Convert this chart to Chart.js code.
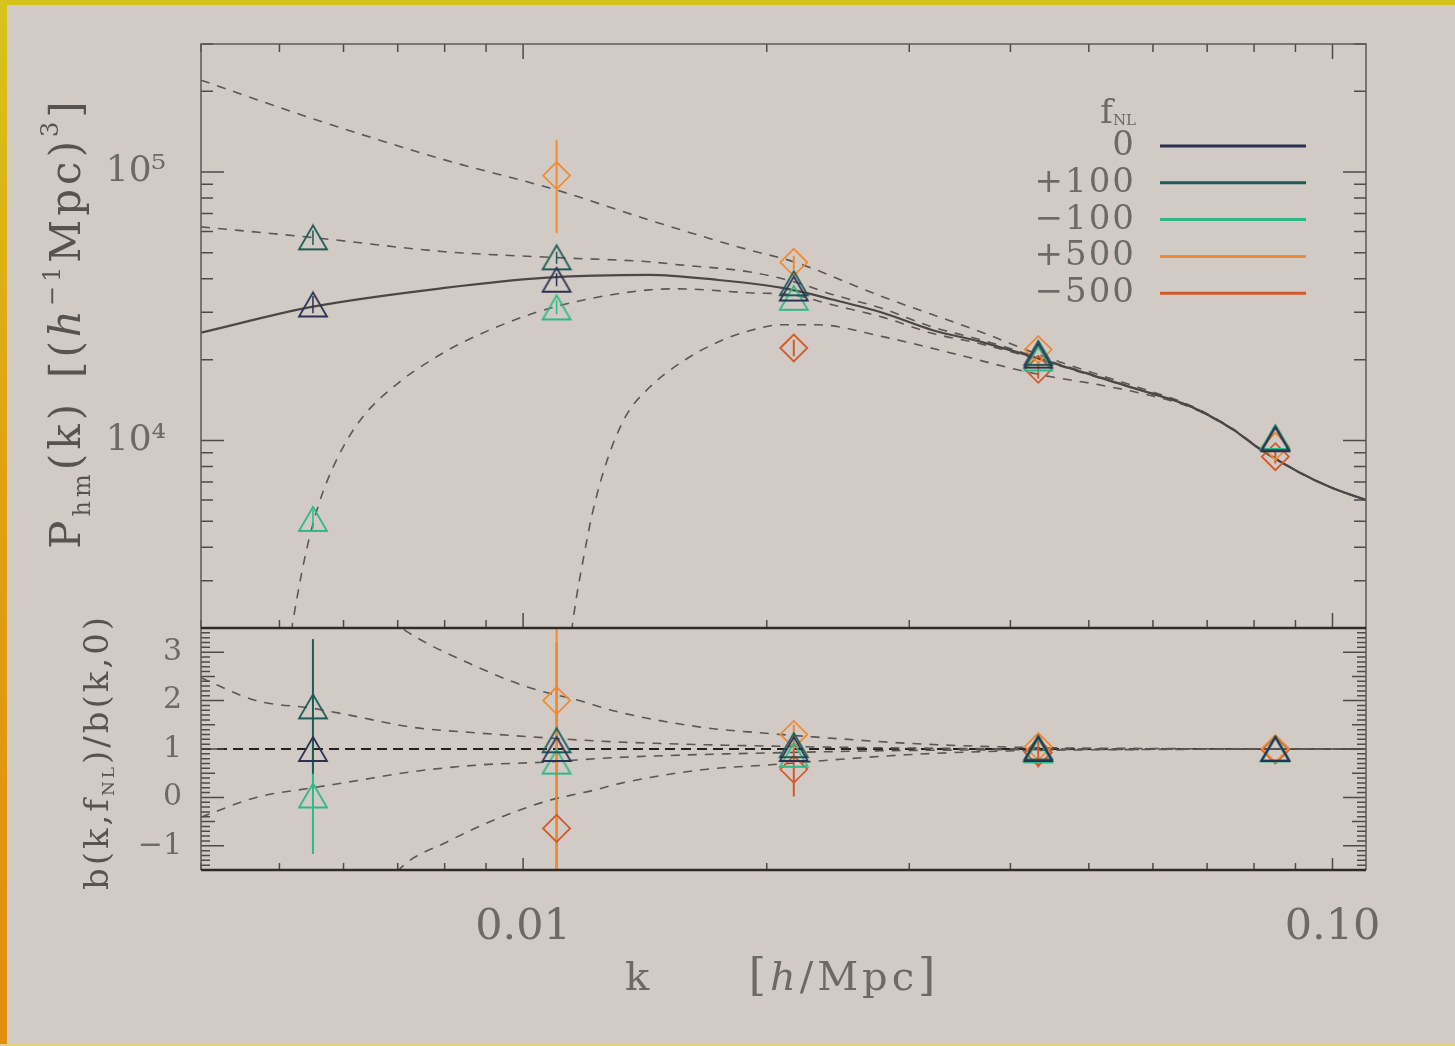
<!DOCTYPE html>
<html>
<head>
<meta charset="utf-8">
<script src="https://cdn.jsdelivr.net/npm/chart.js@4.4.1/dist/chart.umd.min.js"></script>
<style>
  html, body { margin: 0; padding: 0; background: #d2cbc5; }
  #wrap { position: relative; width: 1455px; height: 1046px; overflow: hidden; background: #d2cbc5; }
  #edgeTop { position: absolute; left: 0; top: 0; width: 1455px; height: 5px; background: #d3c21c; }
  #edgeLeft { position: absolute; left: 0; top: 0; width: 7px; height: 1046px;
              background: linear-gradient(#d6c41c, #dfa214 45%, #df8e12); }
  #edgeBottom { position: absolute; left: 0; bottom: 0; width: 1455px; height: 2px; background: #e2d27e; }
  #box { position: absolute; left: 0; top: 0; width: 1455px; height: 1046px; }
</style>
</head>
<body>
<div id="wrap">
  <div id="box"><canvas id="chart"></canvas></div>
  <div id="edgeTop"></div>
  <div id="edgeLeft"></div>
  <div id="edgeBottom"></div>
</div>
<script>
// ---- values ----
const kBins = [0.0055, 0.011, 0.0216, 0.0433, 0.085];
const fnlNames = ['0', '+100', '\u2212100', '+500', '\u2212500'];
const fnlColors = ['#2b3152', '#1f5a56', '#2fb884', '#ee8b36', '#cf5a2c'];

// measured P_hm(k), upper panel (null = off the plot)
const pk_0    = [32100, 39700, 36800, 20700, 10100];
const pk_p100 = [57100, 48100, 38500, 21200, 10200];
const pk_m100 = [5100, 31300, 34000, 20200, 10300];
const pk_p500 = [null, 97000, 46100, 21800, 9500];
const pk_m500 = [null, null, 22100, 18400, 8700];
const pkErrLo_0    = [29800, 37500, null, null, null];
const pkErrHi_0    = [34500, 42000, null, null, null];
const pkErrLo_p100 = [53500, 45500, null, null, null];
const pkErrHi_p100 = [60500, 50500, null, null, null];
const pkErrLo_m100 = [4700, 29500, null, null, null];
const pkErrHi_m100 = [5500, 33200, null, null, null];
const pkErrLo_p500 = [null, 59300, 43500, null, null];
const pkErrHi_p500 = [null, 131500, 48800, null, null];
const pkErrLo_m500 = [null, null, 20600, 17000, 8200];
const pkErrHi_m500 = [null, null, 23700, 19800, 9200];

// measured bias ratio, lower panel
const rb_0    = [1, 1, 1, 1, 1];
const rb_p100 = [1.88, 1.18, 1.08, 1.03, 1.01];
const rb_m100 = [0.04, 0.74, 0.88, 0.97, 0.99];
const rb_p500 = [null, 2.0, 1.3, 1.05, 1.01];
const rb_m500 = [null, -0.64, 0.58, 0.93, 0.98];
const rbErrLo_p100 = [0.49, null, null, null, null];
const rbErrHi_p100 = [3.27, null, null, null, null];
const rbErrLo_m100 = [-1.17, null, null, null, null];
const rbErrHi_m100 = [1.25, null, null, null, null];
const rbErrLo_p500 = [null, -2.0, 1.1, null, null];
const rbErrHi_p500 = [null, 6.0, 1.5, null, null];
const rbErrLo_m500 = [null, -4.5, 0.02, 0.62, null];
const rbErrHi_m500 = [null, 3.2, 1.15, 1.24, null];

// model curves, upper panel
const modK_0 = [0.004, 0.0055, 0.008, 0.0107, 0.0143, 0.0173, 0.0209, 0.0241, 0.0278, 0.032, 0.037, 0.0426, 0.0493, 0.0567, 0.0596, 0.0667, 0.0753, 0.0813, 0.091, 0.1005, 0.11];
const modP_0 = [25200, 31500, 37000, 40400, 41400, 39700, 37000, 33500, 29900, 25800, 23200, 20500, 17900, 15700, 15000, 13400, 11000, 9300, 7600, 6600, 6000];
const modK_p500 = [0.004, 0.0055, 0.008, 0.011, 0.0143, 0.019, 0.0216, 0.0278, 0.037, 0.0426, 0.0493, 0.0567, 0.0667, 0.0753, 0.0813, 0.091, 0.1005, 0.11];
const modP_p500 = [220000, 158000, 111000, 85700, 66300, 51300, 46300, 34300, 25200, 21300, 18300, 16000, 13500, 11050, 9350, 7620, 6610, 6010];
const modK_p100 = [0.004, 0.0055, 0.008, 0.011, 0.0143, 0.0156, 0.019, 0.0216, 0.0241, 0.0278, 0.032, 0.037, 0.0426, 0.0493, 0.0567, 0.0667, 0.0753, 0.0813, 0.091, 0.1005, 0.11];
const modP_p100 = [62500, 57000, 50500, 48000, 46300, 45100, 42500, 39000, 35000, 31000, 26500, 23600, 20700, 18000, 15750, 13420, 11010, 9310, 7605, 6605, 6005];
const modK_m100 = [0.00513, 0.005253, 0.005403, 0.005591, 0.00587, 0.006302, 0.007023, 0.007718, 0.008405, 0.01017, 0.01173, 0.01432, 0.0156, 0.019, 0.0216, 0.0241, 0.0278, 0.032, 0.037, 0.0426, 0.0493, 0.0567, 0.0667, 0.0753, 0.0813, 0.091, 0.1005, 0.11];
const modP_m100 = [1675, 2565, 3935, 5780, 8355, 11970, 16430, 20000, 23130, 29400, 33100, 36400, 36700, 35500, 34800, 32000, 28800, 25100, 22800, 20300, 17800, 15650, 13380, 10990, 9290, 7595, 6595, 5995];
const modK_m500 = [0.0114, 0.01163, 0.0119, 0.01217, 0.0127, 0.01341, 0.01432, 0.01573, 0.01733, 0.01904, 0.02093, 0.02305, 0.02781, 0.03368, 0.0407, 0.04474, 0.0516, 0.0596, 0.0667, 0.0753, 0.0813, 0.091, 0.1005, 0.11];
const modP_m500 = [1675, 2565, 3770, 5310, 8430, 12390, 15740, 19660, 23120, 25630, 26980, 26980, 24360, 21230, 18370, 17300, 16100, 14700, 13300, 10950, 9270, 7580, 6590, 5990];

// model curves, lower panel
const modRK_0 = [0.004, 0.11];
const modR_0 = [1, 1];
const modRK_p500 = [0.0066, 0.00716, 0.00882, 0.01017, 0.01173, 0.01315, 0.01661, 0.01976, 0.02285, 0.02971, 0.0397, 0.06, 0.11];
const modR_p500 = [3.9, 3.44, 2.68, 2.27, 2.0, 1.76, 1.45, 1.33, 1.25, 1.12, 1.04, 1.01, 1.0];
const modRK_100 = [0.004, 0.00468, 0.0055, 0.0061, 0.00729, 0.00882, 0.01068, 0.01289, 0.0216, 0.03, 0.05, 0.11];
const modR_p100 = [2.47, 2.0, 1.84, 1.70, 1.45, 1.33, 1.23, 1.15, 1.05, 1.02, 1.0, 1.0];
const modR_m100 = [-0.41, 0.0, 0.2, 0.32, 0.53, 0.67, 0.73, 0.82, 0.93, 0.97, 0.99, 1.0];
const modRK_m500 = [0.0066, 0.0071, 0.00803, 0.00926, 0.01068, 0.01231, 0.01326, 0.01661, 0.02005, 0.0297, 0.0397, 0.06, 0.11];
const modR_m500 = [-2.1, -1.42, -0.93, -0.45, -0.08, 0.16, 0.30, 0.57, 0.67, 0.88, 0.96, 0.99, 1.0];

// axes
const xLabelTicks = [0.01, 0.1];
const xLabels = ['0.01', '0.10'];
const xMinorTicks = [0.004, 0.005, 0.006, 0.007, 0.008, 0.009, 0.02, 0.03, 0.04, 0.05, 0.06, 0.07, 0.08, 0.09];
const pLabelTicks = [1e4, 1e5];
const pLabels = ['10\u2074', '10\u2075'];
const pMinorTicks = [2000, 3000, 4000, 5000, 6000, 7000, 8000, 9000, 20000, 30000, 40000, 50000, 60000, 70000, 80000, 90000, 200000, 300000];
const rLabelTicks = [-1, 0, 1, 2, 3];

const SERIF = '"DejaVu Serif", "Liberation Serif", serif';
const TICK_COLOR = '#6d6965';
const TITLE_COLOR = '#58534f';
const MODEL_COLOR = '#5a5755';

// helpers
function pts(xs, ys) {
  return xs.map((x, i) => ({ x: x, y: ys[i] })).filter(p => p.y !== null);
}
function bars(xs, lo, hi) {
  const out = [];
  xs.forEach((x, i) => {
    if (lo[i] !== null) out.push({ x: x, y: lo[i] }, { x: x, y: hi[i] }, { x: x, y: null });
  });
  return out;
}
function triangleMark(color) {
  const c = document.createElement('canvas');
  c.width = 32; c.height = 28;
  const g = c.getContext('2d');
  g.strokeStyle = color;
  g.lineWidth = 1.8;
  g.beginPath();
  g.moveTo(16, 2); g.lineTo(30, 26); g.lineTo(2, 26);
  g.closePath();
  g.stroke();
  return c;
}
const triMarks = fnlColors.map(triangleMark);

function model(data, axis, solid) {
  return {
    data: data, yAxisID: axis, showLine: true, pointRadius: 0,
    borderColor: solid ? '#4a4847' : MODEL_COLOR,
    borderWidth: solid ? 2.2 : 1.6,
    borderDash: solid ? [] : [9, 8],
    cubicInterpolationMode: 'monotone', order: 3
  };
}
function errBar(data, axis, color, width) {
  return { data: data, yAxisID: axis, showLine: true, spanGaps: false, pointRadius: 0,
           borderColor: color, borderWidth: width || 2, order: 2 };
}
function marks(data, axis, idx) {
  const diamond = idx >= 3;
  return {
    data: data, yAxisID: axis, showLine: false,
    pointStyle: diamond ? 'rectRot' : triMarks[idx],
    pointRadius: diamond ? 13.5 : 14,
    pointBorderWidth: 1.8,
    pointBorderColor: fnlColors[idx],
    pointBackgroundColor: 'rgba(0,0,0,0)',
    order: 1
  };
}

const upperSeries = [pk_0, pk_p100, pk_m100, pk_p500, pk_m500];
const lowerSeries = [rb_0, rb_p100, rb_m100, rb_p500, rb_m500];

const datasets = [
  model(pts(modK_0, modP_0), 'yUp', true),
  model(pts(modK_p500, modP_p500), 'yUp'),
  model(pts(modK_p100, modP_p100), 'yUp'),
  model(pts(modK_m100, modP_m100), 'yUp'),
  model(pts(modK_m500, modP_m500), 'yUp'),
  model(pts(modRK_p500, modR_p500), 'yLow'),
  model(pts(modRK_100, modR_p100), 'yLow'),
  model(pts(modRK_100, modR_m100), 'yLow'),
  model(pts(modRK_m500, modR_m500), 'yLow'),
  Object.assign(model(pts(modRK_0, modR_0), 'yLow'), { borderColor: '#222', borderWidth: 2, borderDash: [10, 6] }),
  errBar(bars(kBins, pkErrLo_0, pkErrHi_0), 'yUp', fnlColors[0], 1.5),
  errBar(bars(kBins, pkErrLo_p100, pkErrHi_p100), 'yUp', fnlColors[1], 1.5),
  errBar(bars(kBins, pkErrLo_m100, pkErrHi_m100), 'yUp', fnlColors[2], 1.5),
  errBar(bars(kBins, pkErrLo_p500, pkErrHi_p500), 'yUp', fnlColors[3]),
  errBar(bars(kBins, pkErrLo_m500, pkErrHi_m500), 'yUp', fnlColors[4]),
  errBar(bars(kBins, rbErrLo_p100, rbErrHi_p100), 'yLow', fnlColors[1]),
  errBar(bars(kBins, rbErrLo_m100, rbErrHi_m100), 'yLow', fnlColors[2]),
  errBar(bars(kBins, rbErrLo_p500, rbErrHi_p500), 'yLow', fnlColors[3]),
  errBar(bars(kBins, rbErrLo_m500, rbErrHi_m500), 'yLow', fnlColors[4])
];
upperSeries.forEach((s, i) => datasets.push(marks(pts(kBins, s), 'yUp', i)));
lowerSeries.forEach((s, i) => datasets.push(marks(pts(kBins, s), 'yLow', i)));

// frame + inward tick marks (IDL style)
const frameTicks = {
  id: 'frameTicks',
  afterDraw(chart) {
    const { ctx } = chart;
    const x = chart.scales.x, yU = chart.scales.yUp, yL = chart.scales.yLow;
    const L = x.left, R = x.right;
    ctx.save();
    function tickX(v, yEdge, len, dir) {
      const px = x.getPixelForValue(v);
      ctx.beginPath(); ctx.moveTo(px, yEdge); ctx.lineTo(px, yEdge + dir * len); ctx.stroke();
    }
    function tickY(scale, v, len) {
      const py = scale.getPixelForValue(v);
      ctx.beginPath();
      ctx.moveTo(L, py); ctx.lineTo(L + len, py);
      ctx.moveTo(R, py); ctx.lineTo(R - len, py);
      ctx.stroke();
    }
    ctx.strokeStyle = '#4e4a47';
    ctx.lineWidth = 1.5;
    xMinorTicks.forEach(v => { tickX(v, yU.top, 8, 1); tickX(v, yU.bottom, 8, -1); tickX(v, yL.bottom, 7, -1); });
    xLabelTicks.forEach(v => { tickX(v, yU.top, 15, 1); tickX(v, yU.bottom, 15, -1); tickX(v, yL.bottom, 12, -1); });
    pMinorTicks.forEach(v => tickY(yU, v, 12));
    pLabelTicks.forEach(v => tickY(yU, v, 23));
    for (let i = -15; i <= 35; i++) {
      tickY(yL, i / 10, i % 10 === 0 ? 23 : (i % 5 === 0 ? 14 : 9));
    }
    ctx.strokeStyle = '#5e5a56';
    ctx.lineWidth = 1.5;
    ctx.beginPath();
    ctx.moveTo(L, yU.bottom); ctx.lineTo(L, yU.top); ctx.lineTo(R, yU.top); ctx.lineTo(R, yU.bottom);
    ctx.moveTo(L, yL.top); ctx.lineTo(L, yL.bottom);
    ctx.moveTo(R, yL.top); ctx.lineTo(R, yL.bottom);
    ctx.stroke();
    ctx.strokeStyle = '#2e2c2a';
    ctx.lineWidth = 2.5;
    ctx.beginPath();
    ctx.moveTo(L, yL.top); ctx.lineTo(R, yL.top);
    ctx.moveTo(L, yL.bottom); ctx.lineTo(R, yL.bottom);
    ctx.stroke();
    ctx.restore();
  }
};

function fontOf(size, italic) { return (italic ? 'italic ' : '') + size + 'px ' + SERIF; }
function drawRich(ctx, parts, px, py, opts) {
  opts = opts || {};
  ctx.save();
  ctx.translate(px, py);
  if (opts.rotate) ctx.rotate(-Math.PI / 2);
  ctx.letterSpacing = (opts.spacing || 0) + 'px';
  ctx.fillStyle = opts.color || TITLE_COLOR;
  ctx.textAlign = 'left';
  ctx.textBaseline = 'alphabetic';
  let total = 0;
  parts.forEach(p => { ctx.font = fontOf(p.s, p.it); p.w = ctx.measureText(p.t).width + (p.gap || 0); total += p.w; });
  let cx = opts.align === 'right' ? -total : -total / 2;
  parts.forEach(p => { ctx.font = fontOf(p.s, p.it); ctx.fillText(p.t, cx, p.dy || 0); cx += p.w; });
  ctx.restore();
}

const texts = {
  id: 'texts',
  afterDraw(chart) {
    const { ctx } = chart;
    drawRich(ctx, [
      { t: 'P', s: 42 }, { t: 'hm', s: 24, dy: 10 }, { t: '(k)', s: 42, gap: 22 },
      { t: '[(', s: 42 }, { t: 'h', s: 42, it: true }, { t: '\u22121', s: 24, dy: -20 },
      { t: 'Mpc)', s: 42 }, { t: '3', s: 24, dy: -22 }, { t: ']', s: 42 }
    ], 80, 323, { rotate: true, spacing: 4 });
    drawRich(ctx, [
      { t: 'b(k,f', s: 34 }, { t: 'NL', s: 17, dy: 6 }, { t: ')/b(k,0)', s: 34 }
    ], 108, 752, { rotate: true, spacing: 3 });
    drawRich(ctx, [{ t: 'k', s: 40 }], 637, 990, { color: TICK_COLOR });
    drawRich(ctx, [{ t: '[', s: 44 }, { t: 'h', s: 40, it: true }, { t: '/Mpc', s: 40 }, { t: ']', s: 44 }],
      844, 990, { color: TICK_COLOR, spacing: 4 });
    // legend
    drawRich(ctx, [{ t: 'f', s: 34 }, { t: 'NL', s: 15, dy: 2 }], 1136, 123, { align: 'right', color: TICK_COLOR });
    ctx.save();
    fnlNames.forEach((name, i) => {
      const base = 155 + i * 36.8;
      ctx.font = fontOf(34);
      ctx.letterSpacing = '2px';
      ctx.fillStyle = TICK_COLOR;
      ctx.textAlign = 'right';
      ctx.textBaseline = 'alphabetic';
      ctx.fillText(name, 1136, base);
      ctx.strokeStyle = fnlColors[i];
      ctx.lineWidth = 3;
      ctx.beginPath();
      ctx.moveTo(1160, base - 9); ctx.lineTo(1306, base - 9);
      ctx.stroke();
    });
    ctx.restore();
  }
};

function noPad(s) { s.paddingTop = 0; s.paddingBottom = 0; s.paddingLeft = 0; s.paddingRight = 0; }

new Chart(document.getElementById('chart'), {
  type: 'scatter',
  data: { datasets: datasets },
  options: {
    responsive: true,
    maintainAspectRatio: false,
    animation: false,
    layout: { padding: { left: 0, right: 89, top: 44, bottom: 0 } },
    plugins: { legend: { display: false }, tooltip: { enabled: false } },
    scales: {
      x: {
        type: 'logarithmic', min: 0.004, max: 0.11, position: 'bottom',
        grid: { display: false }, border: { display: false },
        afterFit: s => { s.height = 176; noPad(s); },
        afterBuildTicks: s => { s.ticks = xLabelTicks.map(v => ({ value: v })); },
        ticks: {
          autoSkip: false, maxRotation: 0, padding: 24, color: TICK_COLOR,
          font: { family: SERIF, size: 43 },
          callback: v => xLabels[xLabelTicks.findIndex(t => Math.abs(t - v) < 1e-9)]
        }
      },
      yUp: {
        type: 'logarithmic', min: 2000, max: 300000, position: 'left',
        stack: 'panels', stackWeight: 584, weight: 2,
        grid: { display: false }, border: { display: false },
        afterFit: s => { s.width = 201; noPad(s); },
        afterBuildTicks: s => { s.ticks = pLabelTicks.map(v => ({ value: v })); },
        ticks: {
          autoSkip: false, padding: 27, color: TICK_COLOR, font: { family: SERIF, size: 36 },
          callback: v => pLabels[pLabelTicks.findIndex(t => Math.abs(t - v) < 1e-6)]
        }
      },
      yLow: {
        type: 'linear', min: -1.5, max: 3.5, position: 'left',
        stack: 'panels', stackWeight: 242, weight: 1,
        grid: { display: false }, border: { display: false },
        afterFit: s => { s.width = 201; noPad(s); },
        afterBuildTicks: s => { s.ticks = rLabelTicks.map(v => ({ value: v })); },
        ticks: {
          autoSkip: false, padding: 11, color: TICK_COLOR, font: { family: SERIF, size: 30 },
          callback: v => (v < 0 ? '\u2212' + Math.abs(v) : String(v))
        }
      }
    }
  },
  plugins: [frameTicks, texts]
});
</script>
</body>
</html>
